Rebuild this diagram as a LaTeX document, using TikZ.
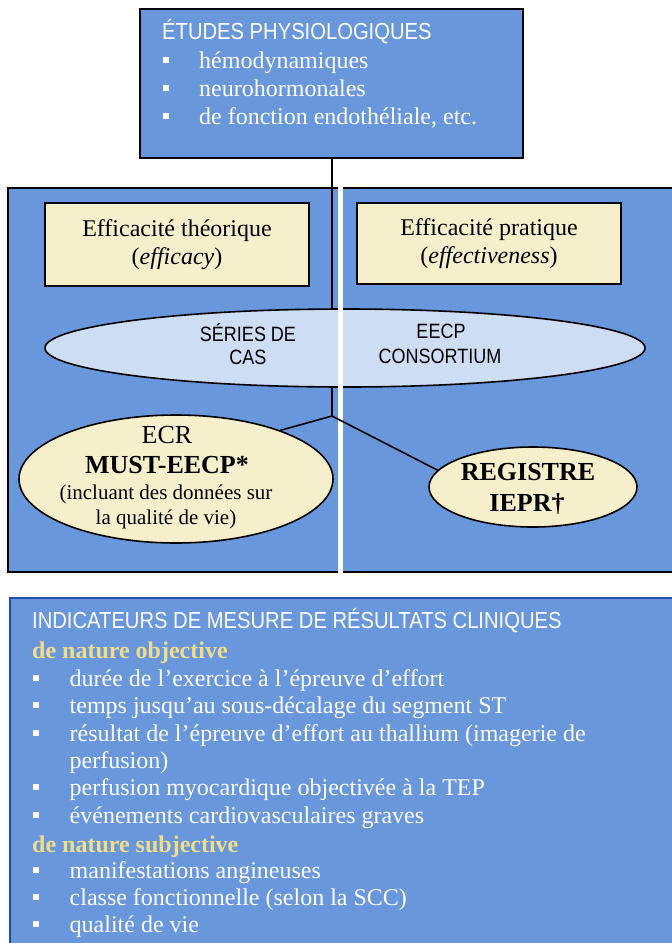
\documentclass[tikz,border=0pt]{standalone}
\usepackage{fontspec}
\setmainfont{Liberation Serif}
\setsansfont{Liberation Sans}
\usetikzlibrary{shapes.geometric}
\definecolor{boxblue}{RGB}{104,151,219}
\definecolor{cream}{RGB}{246,239,204}
\definecolor{lightblue}{RGB}{205,221,243}
\definecolor{goldtxt}{RGB}{240,221,140}
\definecolor{edgeblue}{RGB}{30,78,178}
\newcommand{\sqbullet}{\rule[5pt]{6pt}{6pt}}
\newcommand{\tallsans}[1]{\scalebox{1}[1.15]{#1}}
\tikzset{
  bluebox/.style={draw=black, line width=2pt, fill=boxblue, inner sep=0pt},
  tanbox/.style={draw=black, line width=1.8pt, fill=cream, inner sep=0pt, align=center,
                 font=\fontsize{24}{28}\selectfont},
  oval/.style={ellipse, draw=black, line width=1.6pt, inner sep=0pt},
  conn/.style={draw=black, line width=1.6pt},
  wtxt/.style={inner sep=0pt, anchor=base west, text=white, font=\fontsize{24}{28}\selectfont},
  wsans/.style={inner sep=0pt, anchor=base west, text=white, font=\sffamily\fontsize{20.2}{24}\selectfont},
  gtxt/.style={inner sep=0pt, anchor=base west, text=goldtxt, font=\bfseries\fontsize{24}{28}\selectfont},
  ctxt/.style={inner sep=0pt, anchor=base, text=black},
  etxt/.style={ctxt, font=\sffamily\fontsize{18}{21}\selectfont},
}
\begin{document}
\begin{tikzpicture}[x=1pt,y=-1pt]
\useasboundingbox (0,0) rectangle (672,943);

% top box
\node[bluebox, minimum width=383pt, minimum height=149pt] (tb) at (331.5,83.5) {};
\node[wsans] (tbt) at (162,39) {\tallsans{ÉTUDES PHYSIOLOGIQUES}};
\node[wtxt] (tb1) at (163,68) {\makebox[36pt][l]{\sqbullet}hémodynamiques};
\node[wtxt] (tb2) at (163,96) {\makebox[36pt][l]{\sqbullet}neurohormonales};
\node[wtxt] (tb3) at (163,124) {\makebox[36pt][l]{\sqbullet}de fonction endothéliale, etc.};

% middle box
\node[bluebox, minimum width=692pt, minimum height=384pt] (mid) at (354,380) {};
\node[tanbox, minimum width=264pt, minimum height=83pt] (tl) at (177,244.5)
  {Efficacité théorique\\(\textit{efficacy})};
\node[tanbox, minimum width=264pt, minimum height=81pt] (tr) at (489,243.5)
  {Efficacité pratique\\(\textit{effectiveness})};

\node[oval, fill=lightblue, minimum width=600pt, minimum height=78pt] (ell) at (345,348) {};
\node[etxt] (s1) at (248,341) {\tallsans{SÉRIES DE}};
\node[etxt] (s2) at (248,364) {\tallsans{CAS}};
\node[etxt] (c1) at (441,338) {\tallsans{EECP}};
\node[etxt] (c2) at (440,363) {\tallsans{CONSORTIUM}};

% white gap
\fill[white] (338,186) rectangle (343,574);

% ellipses below
\node[oval, fill=cream, minimum width=314pt, minimum height=128pt] (ecr) at (176,479) {};
\node[oval, fill=cream, minimum width=208pt, minimum height=80pt] (reg) at (533,487) {};

\coordinate (j) at (332,416);
\draw[conn] (tb.south -| j) -- (ell.north -| j);
\draw[conn] (ell.south -| j) -- (j) -- (ecr.25);
\draw[conn] (j) -- (reg.170);

\node[ctxt, font=\fontsize{26}{30}\selectfont] (e1) at (167,443) {ECR};
\node[ctxt, font=\bfseries\fontsize{26}{30}\selectfont] (e2) at (167,473) {MUST-EECP*};
\node[ctxt, font=\fontsize{21}{25}\selectfont] (e3) at (166,499) {(incluant des données sur};
\node[ctxt, font=\fontsize{21}{25}\selectfont] (e4) at (166,524) {la qualité de vie)};

\node[ctxt, font=\bfseries\fontsize{26}{30}\selectfont] (r1) at (528,480) {REGISTRE};
\node[ctxt, font=\bfseries\fontsize{26}{30}\selectfont] (r2) at (527,511) {IEPR†};

% bottom box
\node[draw=edgeblue, line width=1.6pt, fill=boxblue, inner sep=0pt,
      minimum width=690pt, minimum height=362pt] (bot) at (355,779) {};
\node[wsans] (bt) at (32,628) {\tallsans{INDICATEURS DE MESURE DE RÉSULTATS CLINIQUES}};
\node[gtxt] (g1) at (32,658) {de nature objective};
\node[wtxt] (o1) at (33,686) {\makebox[36.5pt][l]{\sqbullet}durée de l’exercice à l’épreuve d’effort};
\node[wtxt] (o2) at (33,713) {\makebox[36.5pt][l]{\sqbullet}temps jusqu’au sous-décalage du segment ST};
\node[wtxt] (o3) at (33,741) {\makebox[36.5pt][l]{\sqbullet}résultat de l’épreuve d’effort au thallium (imagerie de};
\node[wtxt] (o3b) at (69.5,768) {perfusion)};
\node[wtxt] (o4) at (33,795) {\makebox[36.5pt][l]{\sqbullet}perfusion myocardique objectivée à la TEP};
\node[wtxt] (o5) at (33,823) {\makebox[36.5pt][l]{\sqbullet}événements cardiovasculaires graves};
\node[gtxt] (g2) at (32,852) {de nature subjective};
\node[wtxt] (s1b) at (33,878) {\makebox[36.5pt][l]{\sqbullet}manifestations angineuses};
\node[wtxt] (s2b) at (33,905) {\makebox[36.5pt][l]{\sqbullet}classe fonctionnelle (selon la SCC)};
\node[wtxt] (s3b) at (33,932) {\makebox[36.5pt][l]{\sqbullet}qualité de vie};
\end{tikzpicture}
\end{document}
